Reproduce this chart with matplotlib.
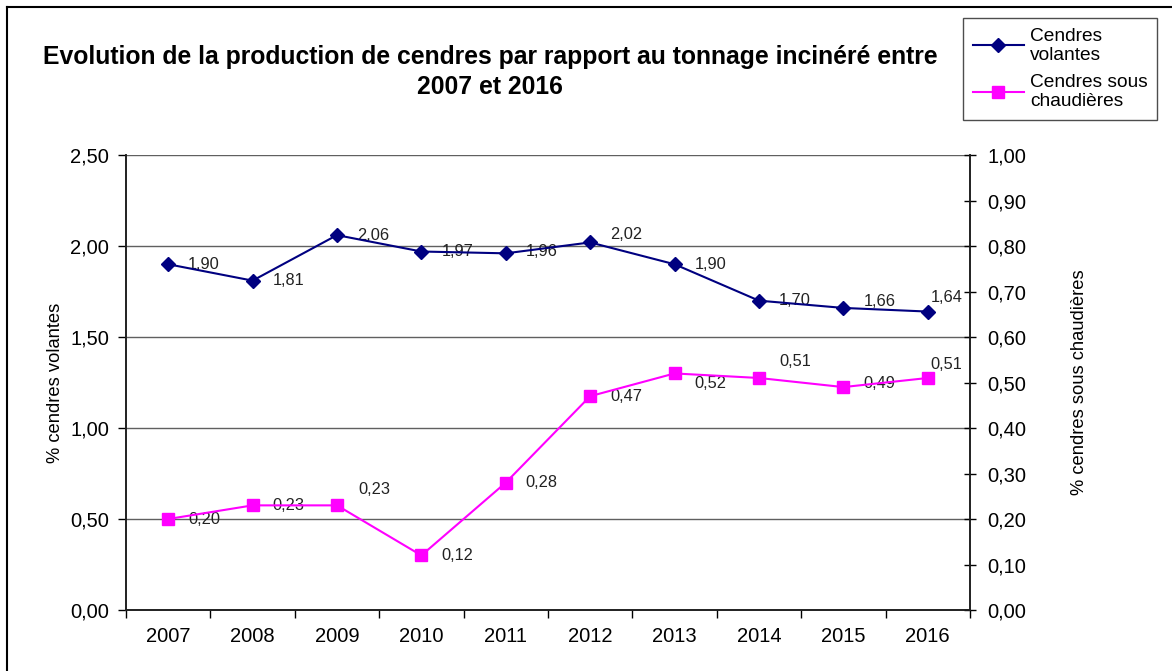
import matplotlib.pyplot as plt
from matplotlib.lines import Line2D
import numpy as np

plt.rcParams['font.family'] = ['Liberation Sans', 'DejaVu Sans']

# data
years = ['2007', '2008', '2009', '2010', '2011', '2012', '2013', '2014', '2015', '2016']
volantes = [1.90, 1.81, 2.06, 1.97, 1.96, 2.02, 1.90, 1.70, 1.66, 1.64]
chaudieres = [0.20, 0.23, 0.23, 0.12, 0.28, 0.47, 0.52, 0.51, 0.49, 0.51]

# label nudges in pixels (dx, dy up)
vol_nudge = [(20, 0), (20, 0), (20, 0), (20, 0), (20, 2), (20, 8), (20, 0), (20, 0), (20, 6), (3, 14)]
cha_nudge = [(20, 0), (20, 0), (21, 16), (20, 0), (20, 0), (20, 0), (20, -10), (20, 16), (20, 4), (3, 13)]

NAVY = '#000080'
MAGENTA = '#FF00FF'
GRID = '#606060'

fig = plt.figure(figsize=(11.72, 6.71), dpi=100)
ax = fig.add_axes([0.1075, 0.0909, 0.7201, 0.678])
ax2 = ax.twinx()

x = np.arange(len(years))

ax.plot(x, volantes, color=NAVY, marker='D', markersize=7, linewidth=1.5, zorder=5)
ax2.plot(x, chaudieres, color=MAGENTA, marker='s', markersize=9, linewidth=1.5, zorder=5)

px = 72 / fig.dpi
for i, v in enumerate(volantes):
    dx, dy = vol_nudge[i]
    ax.annotate(f'{v:.2f}'.replace('.', ','), (x[i], v), xytext=(dx * px, dy * px),
                textcoords='offset points', ha='left', va='center', fontsize=11.8, color='#222222')
for i, v in enumerate(chaudieres):
    dx, dy = cha_nudge[i]
    ax2.annotate(f'{v:.2f}'.replace('.', ','), (x[i], v), xytext=(dx * px, dy * px),
                 textcoords='offset points', ha='left', va='center', fontsize=11.8, color='#222222')

# axes limits and ticks
ax.set_xlim(-0.5, len(years) - 0.5)
ax.set_ylim(0, 2.5)
ax2.set_ylim(0, 1.0)

ax.set_yticks(np.arange(0, 2.51, 0.5))
ax.set_yticklabels([f'{t:.2f}'.replace('.', ',') for t in np.arange(0, 2.51, 0.5)], fontsize=14.5)
ax2.set_yticks(np.arange(0, 1.01, 0.1))
ax2.set_yticklabels([f'{t:.2f}'.replace('.', ',') for t in np.arange(0, 1.01, 0.1)], fontsize=14.5)

ax.set_xticks(x)
ax.set_xticklabels(years, fontsize=14.5)
ax.set_xticks(np.arange(-0.5, len(years), 1), minor=True)
ax.tick_params(axis='x', which='major', length=0, pad=12)
ax.tick_params(axis='x', which='minor', length=6, direction='out', width=1)
ax.tick_params(axis='y', length=6, direction='out', width=1, pad=6)
ax2.tick_params(axis='y', length=9, direction='inout', width=1, pad=8)

for y in np.arange(0.5, 2.51, 0.5):
    ax.axhline(y, color=GRID, linewidth=1.0, zorder=0)

for a in (ax, ax2):
    a.spines['top'].set_visible(False)
    for s in ('left', 'right', 'bottom'):
        a.spines[s].set_color('#202020')
        a.spines[s].set_linewidth(1.2)

ax.set_ylabel('% cendres volantes', fontsize=13.2, labelpad=5)
ax2.set_ylabel('% cendres sous chaudières', fontsize=13.2, labelpad=32)

fig.text(0.418, 0.893, 'Evolution de la production de cendres par rapport au tonnage incinéré entre\n2007 et 2016',
         ha='center', va='center', fontsize=17.8, fontweight='bold', linespacing=1.3)

handles = [
    Line2D([], [], color=NAVY, marker='D', markersize=7, linewidth=1.5),
    Line2D([], [], color=MAGENTA, marker='s', markersize=9, linewidth=1.5),
]
leg = fig.legend(handles, ['Cendres\nvolantes', 'Cendres sous\nchaudières'],
                 loc='upper left', bbox_to_anchor=(963 / 1172, 1 - 18 / 671),
                 fontsize=13.8, frameon=True, fancybox=False, borderpad=0.5,
                 handlelength=2.7, handletextpad=0.3, labelspacing=0.55, borderaxespad=0)
for t in leg.get_texts():
    t.set_linespacing(1.15)
leg.get_frame().set_edgecolor('#202020')
leg.get_frame().set_linewidth(1.0)

# figure frame (left and top edges of the cropped chart area)
fig.add_artist(Line2D([7 / 1172, 7 / 1172], [0, 1 - 7 / 671], transform=fig.transFigure, color='black', linewidth=1.5))
fig.add_artist(Line2D([7 / 1172, 1], [1 - 7 / 671, 1 - 7 / 671], transform=fig.transFigure, color='black', linewidth=1.5))

fig.savefig('out.png', dpi=100)
